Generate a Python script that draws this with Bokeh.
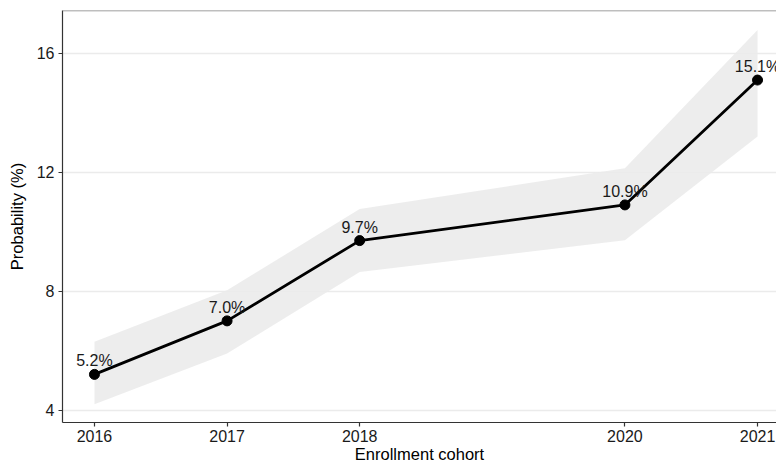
from bokeh.plotting import figure
from bokeh.models import ColumnDataSource, FixedTicker, Range1d, Span
from bokeh.core.properties import value
from bokeh.embed import file_html
from bokeh.resources import INLINE

# Enrollment cohorts and estimated probability (%) with confidence band
years = [2016, 2017, 2018, 2020, 2021]
prob = [5.2, 7.0, 9.7, 10.9, 15.1]
lower = [4.2, 5.9, 8.64, 9.71, 13.2]
upper = [6.3, 8.03, 10.76, 12.13, 16.78]
labels = ["5.2%", "7.0%", "9.7%", "10.9%", "15.1%"]
y_ticks = [4, 8, 12, 16]

FONT = "Liberation Sans"

src = ColumnDataSource(dict(x=years, y=prob, lo=lower, hi=upper, label=labels))

x_start, x_end = 2015.759, 2021.143
y_start, y_end = 3.582, 17.439

p = figure(
    width=776, height=465,
    x_range=Range1d(x_start, x_end), y_range=Range1d(y_start, y_end),
    output_backend="svg", toolbar_location=None,
    min_border_left=62, min_border_right=0, min_border_top=10, min_border_bottom=41,
    background_fill_color="white", border_fill_color="white",
)
p.outline_line_color = None

# grid: horizontal major lines only
p.xgrid.grid_line_color = None
p.ygrid.grid_line_color = "#EBEBEB"
p.ygrid.grid_line_width = 1.5

# confidence band
p.varea(x="x", y1="lo", y2="hi", source=src, fill_color="#EBEBEB", fill_alpha=0.9)

# estimates
p.line(x="x", y="y", source=src, line_color="black", line_width=2.8)
p.scatter(x="x", y="y", source=src, size=10, fill_color="black", line_color="black")
p.text(x="x", y="y", text="label", source=src, text_align="center",
       text_baseline="bottom", y_offset=-5,
       text_font=value(FONT), text_font_size="16px", text_color="#1a1a1a")

# top border of the panel
p.add_layout(Span(location=y_end, dimension="width", line_color="#7F7F7F", line_width=1.5))

for ax in (p.xaxis[0], p.yaxis[0]):
    ax.axis_line_color = "#333333"
    ax.axis_line_width = 1.2
    ax.major_tick_line_color = "#333333"
    ax.major_tick_line_width = 1.2
    ax.major_tick_in = 0
    ax.major_tick_out = 4
    ax.minor_tick_line_color = None
    ax.major_label_text_font = FONT
    ax.major_label_text_font_size = "16px"
    ax.major_label_text_color = "#1a1a1a"
    ax.axis_label_text_font = FONT
    ax.axis_label_text_font_size = "16.5px"
    ax.axis_label_text_font_style = "normal"
    ax.axis_label_text_color = "black"

p.xaxis.ticker = FixedTicker(ticks=years)
p.yaxis.ticker = FixedTicker(ticks=y_ticks)
p.xaxis.axis_label = "Enrollment cohort"
p.yaxis.axis_label = "Probability (%)"
p.xaxis.major_label_standoff = 3
p.xaxis.axis_label_standoff = 0
p.yaxis.major_label_standoff = 4
p.yaxis.axis_label_standoff = 8

open("out.html", "w").write(file_html(p, INLINE))
